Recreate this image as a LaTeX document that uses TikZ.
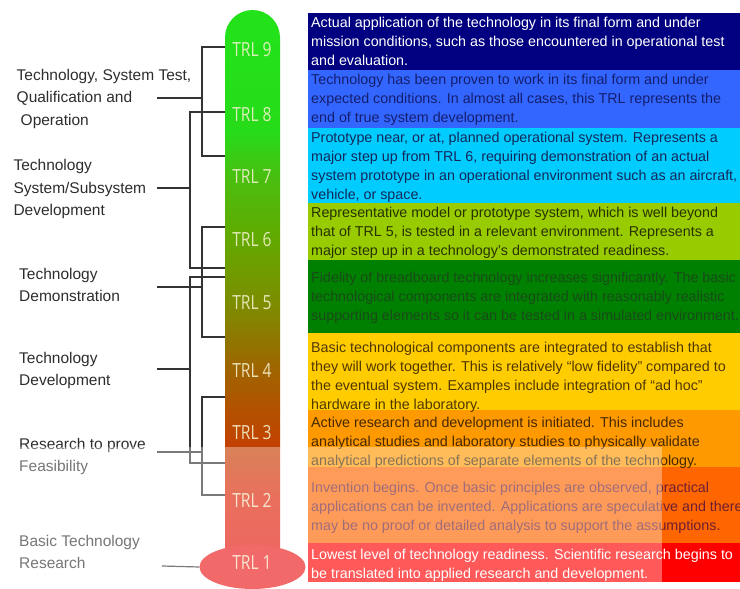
\documentclass[tikz,border=0pt]{standalone}
\usepackage{fontspec}
\setmainfont{Liberation Sans}
\newfontfamily\trlfont[FakeStretch=0.8]{Open Sans}
\usetikzlibrary{shapes.geometric}

% level colours of the description bands
\definecolor{lvA}{RGB}{0,0,128}
\definecolor{lvB}{RGB}{51,102,255}
\definecolor{lvC}{RGB}{0,204,255}
\definecolor{lvD}{RGB}{153,204,0}
\definecolor{lvE}{RGB}{0,128,0}
\definecolor{lvF}{RGB}{255,204,0}
\definecolor{lvG}{RGB}{255,153,0}
\definecolor{lvH}{RGB}{255,102,0}
\definecolor{lvI}{RGB}{255,0,0}
% text colours inside the bands
\definecolor{txB}{RGB}{20,30,110}
\definecolor{txC}{RGB}{20,40,90}
\definecolor{txD}{RGB}{40,50,0}
\definecolor{txE}{RGB}{25,75,25}
\definecolor{txF}{RGB}{80,55,0}
\definecolor{txG}{RGB}{70,40,0}
\definecolor{txH}{RGB}{110,30,50}
% thermometer
\definecolor{tubetop}{RGB}{35,226,25}
\definecolor{bulbred}{RGB}{235,25,25}
\definecolor{trltext}{RGB}{245,242,205}
\definecolor{labgray}{RGB}{45,45,45}

\pgfdeclareverticalshading{tubeshade}{100bp}{%
  rgb(0bp)=(0.90,0.08,0.06);
  rgb(25bp)=(0.90,0.08,0.06);
  rgb(31bp)=(0.87,0.14,0.02);
  rgb(37bp)=(0.745,0.275,0);
  rgb(43.2bp)=(0.627,0.392,0);
  rgb(49.4bp)=(0.49,0.55,0);
  rgb(55.5bp)=(0.39,0.66,0);
  rgb(61.5bp)=(0.29,0.745,0.06);
  rgb(66bp)=(0.15,0.86,0.1);
  rgb(75bp)=(0.137,0.886,0.098);
  rgb(100bp)=(0.137,0.886,0.098)}

\tikzset{
  trl/.style={font=\trlfont\fontsize{19.5}{20}\selectfont, text=trltext, text opacity=0.88, inner sep=0},
  lab/.style={anchor=north west, inner sep=0, align=left, text=labgray,
              font=\fontsize{15.5}{22.5}\selectfont},
  desc/.style={anchor=north west, inner sep=0, align=left,
               font=\fontsize{14.3}{19.3}\selectfont},
  link/.style={draw=black!80, line width=1.2pt},
}

\begin{document}
\begin{tikzpicture}[x=1pt,y=-1pt]
\useasboundingbox (0,0) rectangle (740,589);

% ---- description bands, TRL 9 at the top down to TRL 1
\fill[lvA] (308,13) rectangle (740,70);
\fill[lvB] (308,70) rectangle (740,128);
\fill[lvC] (308,128) rectangle (740,203);
\fill[lvD] (308,203) rectangle (740,260);
\fill[lvE] (308,260) rectangle (740,333);
\fill[lvF] (308,333) rectangle (740,410);
\fill[lvG] (308,410) rectangle (740,467);
\fill[lvH] (308,467) rectangle (740,543);
\fill[lvI] (308,543) rectangle (740,582);

\node[desc, text=white] (d9) at (311,16.5) {Actual application of the technology in its final form and under\\mission conditions, such as those encountered in operational test\\and evaluation.};
\node[desc, text=txB] (d8) at (311,73.5) {Technology has been proven to work in its final form and under\\expected conditions. In almost all cases, this TRL represents the\\end of true system development.};
\node[desc, text=txC] (d7) at (311,131.5) {Prototype near, or at, planned operational system. Represents a\\major step up from TRL 6, requiring demonstration of an actual\\system prototype in an operational environment such as an aircraft,\\vehicle, or space.};
\node[desc, text=txD] (d6) at (311,206.5) {Representative model or prototype system, which is well beyond\\that of TRL 5, is tested in a relevant environment. Represents a\\major step up in a technology’s demonstrated readiness.};
\node[desc, text=txE] (d5) at (311,271.5) {Fidelity of breadboard technology increases significantly. The basic\\technological components are integrated with reasonably realistic\\supporting elements so it can be tested in a simulated environment.};
\node[desc, text=txF] (d4) at (311,341.5) {Basic technological components are integrated to establish that\\they will work together. This is relatively “low fidelity” compared to\\the eventual system. Examples include integration of “ad hoc”\\hardware in the laboratory.};
\node[desc, text=txG] (d3) at (311,416.5) {Active research and development is initiated. This includes\\analytical studies and laboratory studies to physically validate\\analytical predictions of separate elements of the technology.};
\node[desc, text=txH] (d2) at (311,481.5) {Invention begins. Once basic principles are observed, practical\\applications can be invented. Applications are speculative and there\\may be no proof or detailed analysis to support the assumptions.};
\node[desc, text=white] (d1) at (311,548.5) {Lowest level of technology readiness. Scientific research begins to\\be translated into applied research and development.};

% ---- phase labels on the left
\node[lab] (l1) at (16.5,69) {Technology, System Test,\\Qualification and\\\hspace{4pt}Operation};
\node[lab] (l2) at (13.3,159.5) {Technology\\System/Subsystem\\Development};
\node[lab] (l3) at (19,268) {Technology\\Demonstration};
\node[lab] (l4) at (19,352) {Technology\\Development};
\node[lab] (l5) at (19,438) {Research to prove\\Feasibility};
\node[lab] (l6) at (19,535) {Basic Technology\\Research};

% ---- attachment points on the tube and the label stubs
\coordinate (a9) at (225,47);   \coordinate (a7) at (225,156);
\coordinate (a8) at (225,112);  \coordinate (a6) at (225,268);
\coordinate (b6) at (225,227);  \coordinate (b5) at (225,337);
\coordinate (b4) at (225,277);  \coordinate (b3) at (225,463);
\coordinate (c3) at (225,397);  \coordinate (c2) at (225,495);
\coordinate (s1) at (157,98);   \coordinate (j1) at (202,98);
\coordinate (s2) at (157,188);  \coordinate (j2) at (190,188);
\coordinate (s3) at (157,287);  \coordinate (j3) at (202,287);
\coordinate (s4) at (157,369);  \coordinate (j4) at (190,369);
\coordinate (s5) at (157,452);  \coordinate (j5) at (202,452);
\coordinate (s6) at (162,566);

% brackets grouping the levels
\draw[link] (a9) -- ++(-23,0) |- (a7);
\draw[link] (a8) -- ++(-35,0) |- (a6);
\draw[link] (b6) -- ++(-23,0) |- (b5);
\draw[link] (b4) -- ++(-35,0) |- (b3);
\draw[link] (c3) -- ++(-23,0) |- (c2);
\draw[link] (s1) -- (j1);
\draw[link] (s2) -- (j2);
\draw[link] (s3) -- (j3);
\draw[link] (s4) -- (j4);
\draw[link] (s5) -- (j5);

% ---- thermometer
\fill[tubetop] (252.5,37.5) circle[radius=27.5pt];
\shade[shading=tubeshade] (225,37) rectangle (280,560);
\node[ellipse, fill=bulbred, minimum width=106pt, minimum height=44pt, inner sep=0] (bulb) at (252.5,567) {};
\draw[link] (s6) -- (bulb.west);

\node[trl] (t9) at (252,50) {TRL 9};
\node[trl] (t8) at (252,115) {TRL 8};
\node[trl] (t7) at (252,177) {TRL 7};
\node[trl] (t6) at (252,240) {TRL 6};
\node[trl] (t5) at (252,303) {TRL 5};
\node[trl] (t4) at (252,370) {TRL 4};
\node[trl] (t3) at (252,433) {TRL 3};
\node[trl] (t2) at (252,500) {TRL 2};
\node[trl] (t1) at (252,563) {TRL 1};

% ---- pale veil across the lower part
\fill[white, opacity=0.35] (0,447) rectangle (662,589);
\end{tikzpicture}
\end{document}
